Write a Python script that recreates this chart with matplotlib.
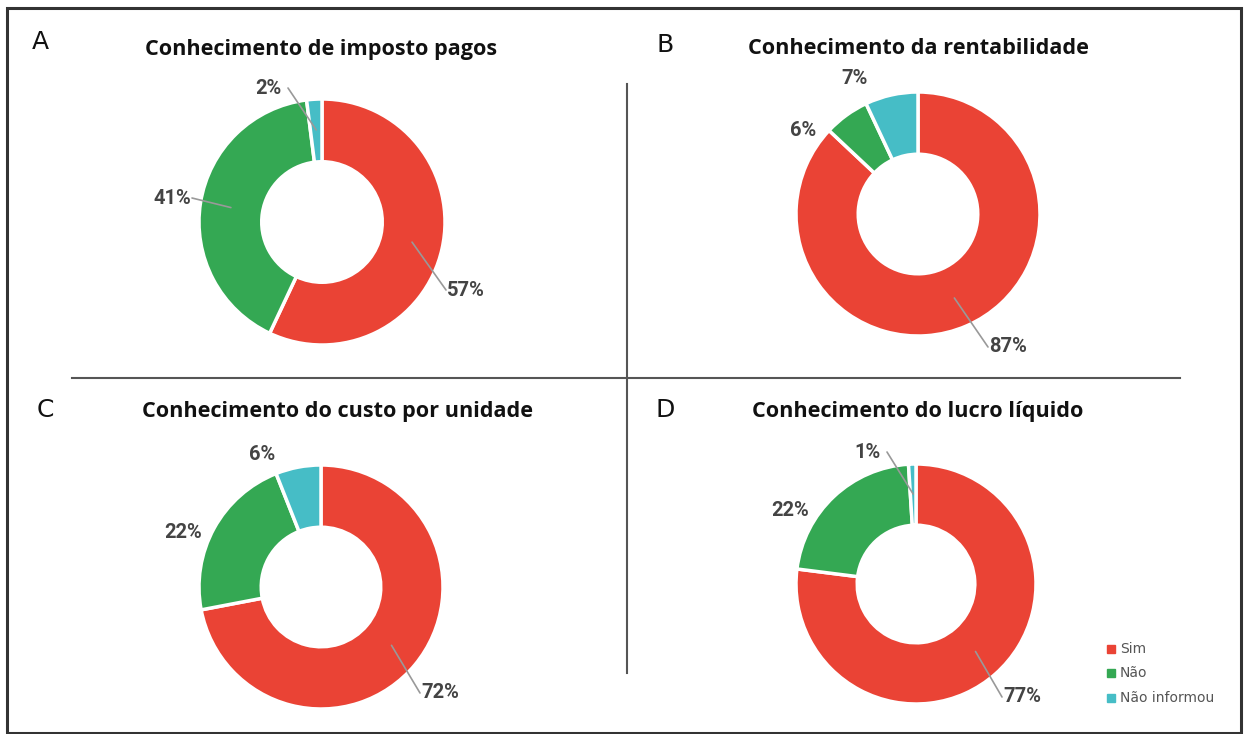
import numpy as np
import matplotlib.pyplot as plt
from matplotlib.patches import Rectangle

W, H = 1246, 734

categories = ["Sim", "Não", "Não informou"]
colors = ["#EA4335", "#34A853", "#46BDC6"]

letters = ["A", "B", "C", "D"]
titles = ["Conhecimento de imposto pagos",
          "Conhecimento da rentabilidade",
          "Conhecimento do custo por unidade",
          "Conhecimento do lucro líquido"]
values_a = [57, 41, 2]
values_b = [87, 6, 7]
values_c = [72, 22, 6]
values_d = [77, 22, 1]
all_values = [values_a, values_b, values_c, values_d]

# layout in pixels (y down)
centers = [(322, 222), (918, 214), (321, 587), (916, 584)]
radii = [123, 122, 122, 120]
title_pos = [(321, 50), (918, 48), (338, 412), (918, 412)]
letter_pos = [(40, 42), (665, 45), (45, 410), (665, 410)]
# label position and whether a leader line is drawn
label_pos = [
    [(466, 290, True), (172, 198, True), (268, 88, True)],
    [(1008, 347, True), (803, 130, False), (855, 78, False)],
    [(440, 693, True), (183, 532, False), (262, 455, False)],
    [(1022, 697, True), (790, 510, False), (867, 452, True)],
]

fig = plt.figure(figsize=(W / 100, H / 100), dpi=100)
ax = fig.add_axes([0, 0, 1, 1])
ax.set_xlim(0, W)
ax.set_ylim(0, H)
ax.set_aspect("equal")
ax.axis("off")

ax.add_patch(Rectangle((7, 1), W - 12, H - 9, fill=False, edgecolor="#333333", lw=2.2))
ax.plot([72, 1180], [H - 378, H - 378], color="#555555", lw=1.5)
ax.plot([627, 627], [H - 84, H - 673], color="#555555", lw=1.5)

for i in range(4):
    cx, cy = centers[i]
    r = radii[i]
    vals = all_values[i]
    ax.pie(vals, colors=colors, startangle=90, counterclock=False,
           center=(cx, H - cy), radius=r, frame=True,
           wedgeprops=dict(width=r * 0.51, edgecolor="white", linewidth=2.5))
    ax.text(title_pos[i][0], H - title_pos[i][1], titles[i], ha="center", va="center",
            fontsize=15.6, fontweight="bold", family="Open Sans", color="#111111")
    ax.text(letter_pos[i][0], H - letter_pos[i][1], letters[i], ha="center", va="center",
            fontsize=18, family="DejaVu Sans", color="#111111")
    total = sum(vals)
    start = 90.0
    for j, v in enumerate(vals):
        ang = start - v / total * 360 / 2
        start -= v / total * 360
        lx, ly, line = label_pos[i][j]
        if line:
            rm = r * 0.75
            ax_ = cx + rm * np.cos(np.radians(ang))
            ay_ = H - cy + rm * np.sin(np.radians(ang))
            ax.annotate("", xy=(ax_, ay_), xytext=(lx - 20 if lx > cx else lx + 20, H - ly),
                        arrowprops=dict(arrowstyle="-", color="#999999", lw=1.2,
                                        shrinkA=0, shrinkB=0))
        ax.text(lx, H - ly, f"{v}%", ha="center", va="center", fontsize=14.5,
                fontweight="bold", family="Roboto", color="#444444")

ax.set_xlim(0, W)
ax.set_ylim(0, H)

# legend
leg_y = [649, 673, 698]
for k, name in enumerate(categories):
    ax.add_patch(Rectangle((1107, H - leg_y[k] - 4), 8, 8, color=colors[k]))
    ax.text(1120, H - leg_y[k], name, ha="left", va="center", fontsize=10,
            color="#555555", family="DejaVu Sans")

fig.savefig("out.png", dpi=100)
